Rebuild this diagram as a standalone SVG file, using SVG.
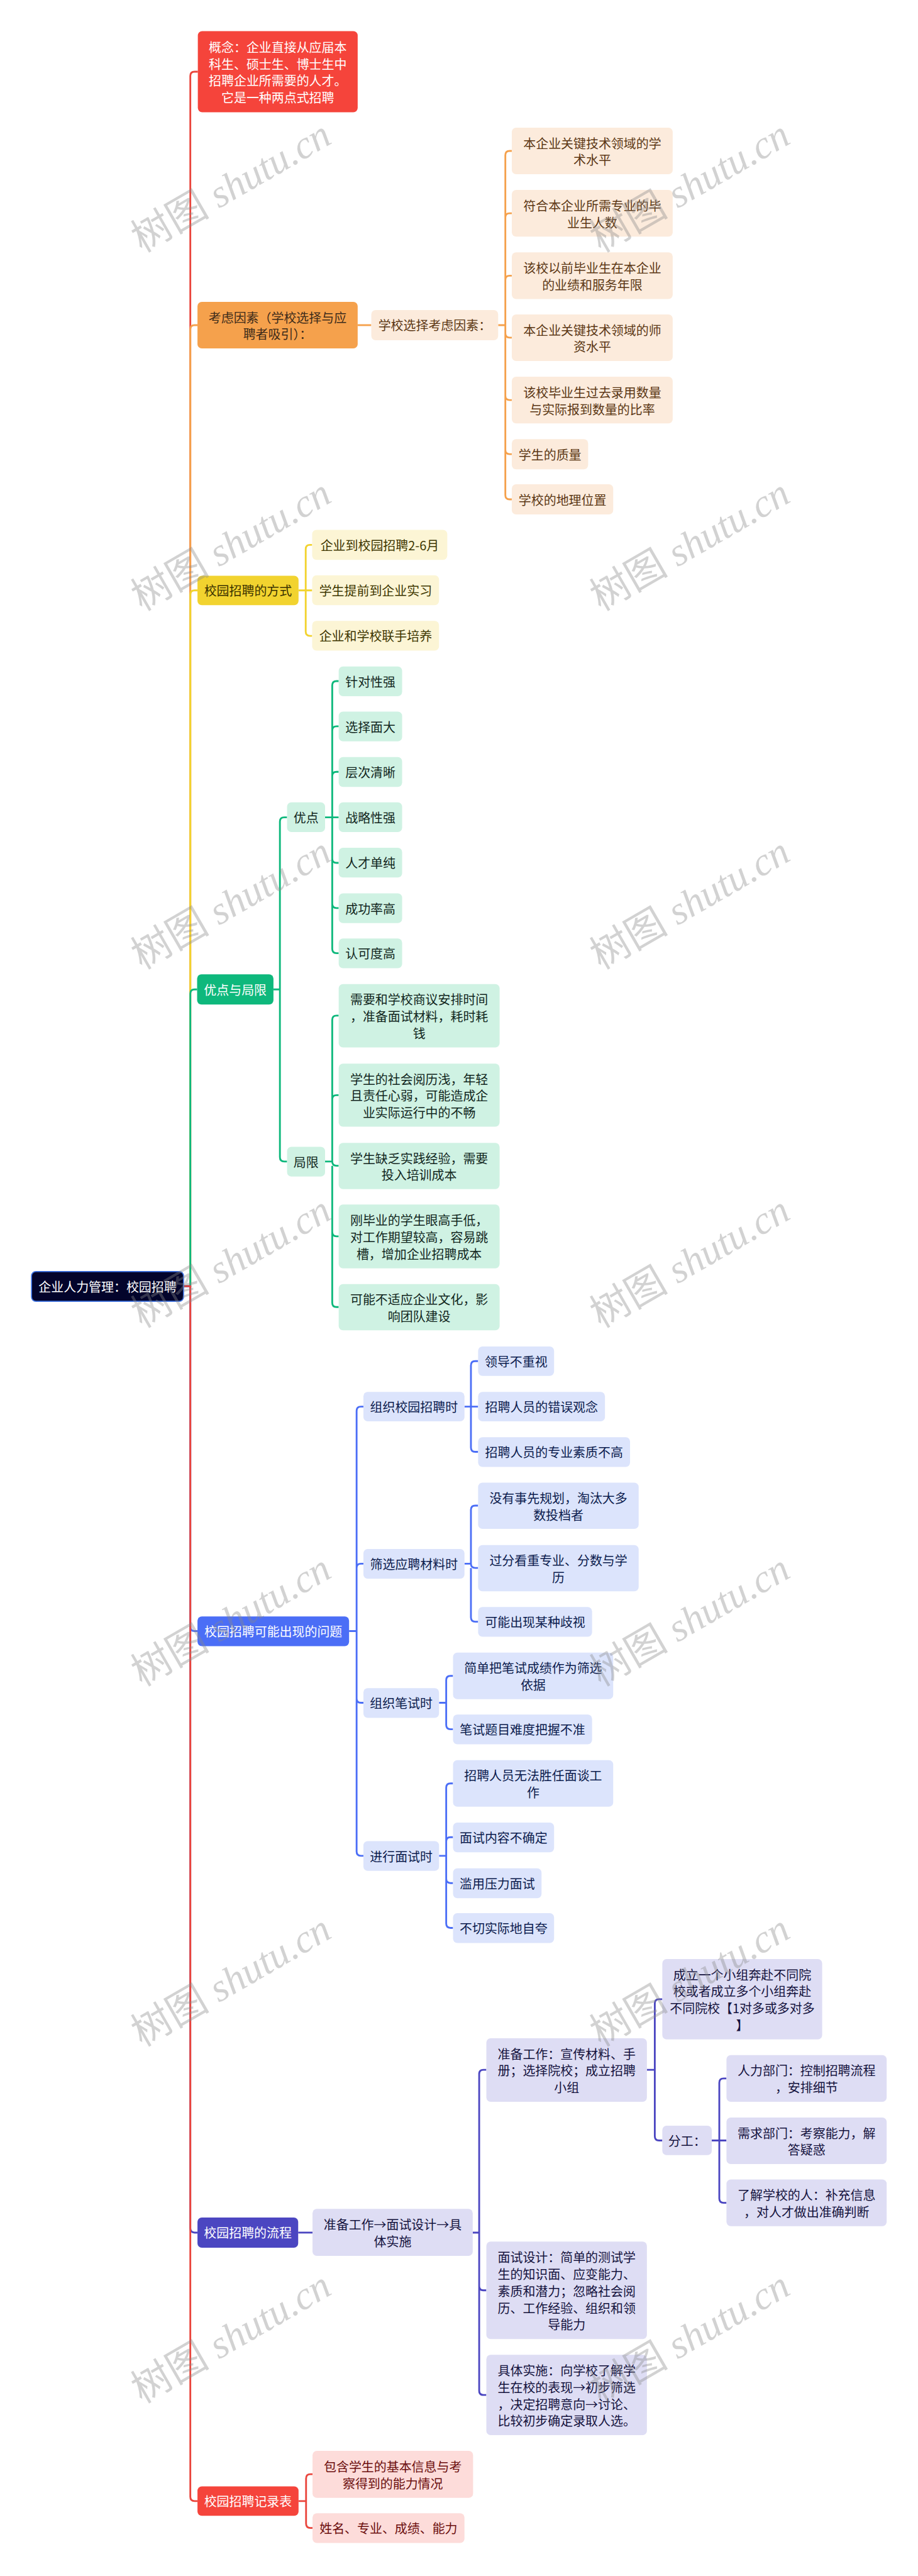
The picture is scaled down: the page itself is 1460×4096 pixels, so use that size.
<svg xmlns="http://www.w3.org/2000/svg" width="1460" height="4096" viewBox="0 0 1460 4096">
<style>
.t{font-family:"Noto Sans CJK SC","Noto Sans",sans-serif;font-size:35px;text-anchor:middle;dominant-baseline:central}
.w{fill:#fff}
.c{fill:none;stroke-width:5}
.red{stroke:#EA463D}.org{stroke:#F5A14C}.yel{stroke:#F2D32F}.grn{stroke:#0EB87C}.blu{stroke:#4B6EF6}.pur{stroke:#4B46C1}
.n1r{fill:#F5443B}.n1o{fill:#F5A14C}.n1y{fill:#F2D32F}.n1g{fill:#0EB87C}.n1b{fill:#4B6EF6}.n1p{fill:#4B46C1}
.no{fill:#FCEBDC}.ny{fill:#FCF5D5}.ng{fill:#CFF2E3}.nb{fill:#DCE4FC}.np{fill:#DEDDF4}.nr{fill:#FDDCDA}
.to{fill:#5B3714}.ty{fill:#3D3600}.tg{fill:#11261D}.tb{fill:#0B1B4D}.tp{fill:#14123D}.tr{fill:#6B0D0D}
.wm{font-family:"Liberation Serif","Noto Sans CJK SC",serif;font-size:110px;fill:#8a8a8a;fill-opacity:0.38;text-anchor:middle;dominant-baseline:central}
</style>
<g transform="scale(0.57)">
<rect x="0" y="0" width="2560" height="7182" fill="#fff"/>
<g id="connectors">
<path class="c red" d="M512 3588H531V212Q531 200 543 200H552"/>
<path class="c org" d="M512 3588H531V919Q531 907 543 907H551"/>
<path class="c yel" d="M512 3588H531V1659Q531 1647 543 1647H551"/>
<path class="c grn" d="M512 3588H531V2772Q531 2760 543 2760H550"/>
<path class="c blu" d="M512 3588H531V4538Q531 4550 543 4550H551"/>
<path class="c pur" d="M512 3588H531V6216Q531 6228 543 6228H551"/>
<path class="c red" d="M512 3588H531V6965Q531 6977 543 6977H551"/>
<path class="c org" d="M998 907H1036"/>
<path class="c org" d="M1390 907H1410V433Q1410 421 1422 421H1428M1410 607Q1410 595 1422 595H1428M1410 781Q1410 769 1422 769H1428M1390 907H1410V930Q1410 942 1422 942H1428M1410 930V1104Q1410 1116 1422 1116H1428M1410 1104V1255Q1410 1267 1422 1267H1428M1410 1255V1381Q1410 1393 1422 1393H1428"/>
<path class="c yel" d="M833 1647H853V1532Q853 1520 865 1520H871M833 1647H871M853 1647V1762Q853 1774 865 1774H871"/>
<path class="c grn" d="M763 2760H781V2292Q781 2280 793 2280H801M763 2760H781V3228Q781 3240 793 3240H801"/>
<path class="c grn" d="M907 2280H927V1912Q927 1900 939 1900H945M927 2038Q927 2026 939 2026H945M927 2165Q927 2153 939 2153H945M907 2280H945M927 2280V2395Q927 2407 939 2407H945M927 2395V2521Q927 2533 939 2533H945M927 2521V2647Q927 2659 939 2659H945"/>
<path class="c grn" d="M907 3240H927V2845Q927 2833 939 2833H945M927 3067Q927 3055 939 3055H945M907 3240H927V3240Q927 3252 939 3252H945M927 3252V3437Q927 3449 939 3449H945M927 3437V3634Q927 3646 939 3646H945"/>
<path class="c blu" d="M974 4550H995V3936Q995 3924 1007 3924H1014M995 4374Q995 4362 1007 4362H1014M974 4550H995V4738Q995 4750 1007 4750H1014M995 4738V5165Q995 5177 1007 5177H1014"/>
<path class="c blu" d="M1296 3924H1314V3809Q1314 3797 1326 3797H1334M1296 3924H1334M1314 3924V4038Q1314 4050 1326 4050H1334"/>
<path class="c blu" d="M1296 4362H1314V4212Q1314 4200 1326 4200H1334M1296 4362H1314V4362Q1314 4374 1326 4374H1334M1314 4374V4512Q1314 4524 1326 4524H1334"/>
<path class="c blu" d="M1225 4750H1245V4687Q1245 4675 1257 4675H1264M1225 4750H1245V4812Q1245 4824 1257 4824H1264"/>
<path class="c blu" d="M1225 5177H1245V4987Q1245 4975 1257 4975H1264M1245 5137Q1245 5125 1257 5125H1264M1225 5177H1245V5241Q1245 5253 1257 5253H1264M1245 5241V5366Q1245 5378 1257 5378H1264"/>
<path class="c pur" d="M832 6228H872"/>
<path class="c pur" d="M1319 6228H1337V5786Q1337 5774 1349 5774H1357M1319 6228H1337V6377Q1337 6389 1349 6389H1357M1337 6377V6669Q1337 6681 1349 6681H1357"/>
<path class="c pur" d="M1805 5774H1827V5589Q1827 5577 1839 5577H1848M1805 5774H1827V5959Q1827 5971 1839 5971H1848"/>
<path class="c pur" d="M1986 5971H2007V5810Q2007 5798 2019 5798H2027M1986 5971H2027M2007 5971V6133Q2007 6145 2019 6145H2027"/>
<path class="c red" d="M833 6977H854V6914Q854 6902 866 6902H872M833 6977H854V7040Q854 7052 866 7052H872"/>
</g>
<g id="root"><rect x="88" y="3547" width="424" height="83" rx="12" fill="#03042B" stroke="#3A6FE0" stroke-width="3"/><text class="t w" x="300" y="3588.5" font-size="36">企业人力管理：校园招聘</text></g>
<g id="concept"><rect class="n1r" x="552" y="87" width="446" height="226" rx="12"/><text class="t w" x="775"><tspan x="775" y="129.5">概念：企业直接从应届本</tspan><tspan x="775" y="176.5">科生、硕士生、博士生中</tspan><tspan x="775" y="223.5">招聘企业所需要的人才。</tspan><tspan x="775" y="270.5">它是一种两点式招聘</tspan></text></g>
<g id="factors"><rect class="n1o" x="551" y="842" width="447" height="130" rx="12"/><text class="t" fill="#3D2B1A"><tspan x="774.5" y="883.5">考虑因素（学校选择与应</tspan><tspan x="774.5" y="930.5">聘者吸引）：</tspan></text></g>
<g id="school-factors"><rect class="no" x="1036" y="865" width="354" height="84" rx="12"/><text class="t to" x="1213" y="907">学校选择考虑因素：</text></g>
<g id="f1"><rect class="no" x="1428" y="356" width="449" height="130" rx="12"/><text class="t to"><tspan x="1652.5" y="397.5">本企业关键技术领域的学</tspan><tspan x="1652.5" y="444.5">术水平</tspan></text></g>
<g id="f2"><rect class="no" x="1428" y="530" width="449" height="130" rx="12"/><text class="t to"><tspan x="1652.5" y="571.5">符合本企业所需专业的毕</tspan><tspan x="1652.5" y="618.5">业生人数</tspan></text></g>
<g id="f3"><rect class="no" x="1428" y="704" width="449" height="130" rx="12"/><text class="t to"><tspan x="1652.5" y="745.5">该校以前毕业生在本企业</tspan><tspan x="1652.5" y="792.5">的业绩和服务年限</tspan></text></g>
<g id="f4"><rect class="no" x="1428" y="877" width="449" height="130" rx="12"/><text class="t to"><tspan x="1652.5" y="918.5">本企业关键技术领域的师</tspan><tspan x="1652.5" y="965.5">资水平</tspan></text></g>
<g id="f5"><rect class="no" x="1428" y="1051" width="449" height="130" rx="12"/><text class="t to"><tspan x="1652.5" y="1092.5">该校毕业生过去录用数量</tspan><tspan x="1652.5" y="1139.5">与实际报到数量的比率</tspan></text></g>
<g id="f6"><rect class="no" x="1428" y="1225" width="213" height="84" rx="12"/><text class="t to" x="1534.5" y="1267">学生的质量</text></g>
<g id="f7"><rect class="no" x="1428" y="1351" width="283" height="84" rx="12"/><text class="t to" x="1569.5" y="1393">学校的地理位置</text></g>
<g id="methods"><rect class="n1y" x="551" y="1606" width="282" height="82" rx="12"/><text class="t" fill="#3B3200" x="692" y="1647">校园招聘的方式</text></g>
<g id="m1"><rect class="ny" x="871" y="1478" width="377" height="84" rx="12"/><text class="t ty" x="1059.5" y="1520">企业到校园招聘2-6月</text></g>
<g id="m2"><rect class="ny" x="871" y="1605" width="354" height="83" rx="12"/><text class="t ty" x="1048" y="1646.5">学生提前到企业实习</text></g>
<g id="m3"><rect class="ny" x="871" y="1732" width="354" height="83" rx="12"/><text class="t ty" x="1048" y="1773.5">企业和学校联手培养</text></g>
<g id="proscons"><rect class="n1g" x="550" y="2718" width="213" height="84" rx="12"/><text class="t w" x="656.5" y="2760">优点与局限</text></g>
<g id="pros"><rect class="ng" x="801" y="2238" width="106" height="83" rx="12"/><text class="t tg" x="854" y="2279.5">优点</text></g>
<g id="cons"><rect class="ng" x="801" y="3199" width="106" height="83" rx="12"/><text class="t tg" x="854" y="3240.5">局限</text></g>
<g id="p1"><rect class="ng" x="945" y="1859" width="177" height="83" rx="12"/><text class="t tg" x="1033.5" y="1900.5">针对性强</text></g>
<g id="p2"><rect class="ng" x="945" y="1985" width="177" height="83" rx="12"/><text class="t tg" x="1033.5" y="2026.5">选择面大</text></g>
<g id="p3"><rect class="ng" x="945" y="2112" width="177" height="83" rx="12"/><text class="t tg" x="1033.5" y="2153.5">层次清晰</text></g>
<g id="p4"><rect class="ng" x="945" y="2238" width="177" height="83" rx="12"/><text class="t tg" x="1033.5" y="2279.5">战略性强</text></g>
<g id="p5"><rect class="ng" x="945" y="2365" width="177" height="83" rx="12"/><text class="t tg" x="1033.5" y="2406.5">人才单纯</text></g>
<g id="p6"><rect class="ng" x="945" y="2492" width="177" height="83" rx="12"/><text class="t tg" x="1033.5" y="2533.5">成功率高</text></g>
<g id="p7"><rect class="ng" x="945" y="2618" width="177" height="83" rx="12"/><text class="t tg" x="1033.5" y="2659.5">认可度高</text></g>
<g id="c1"><rect class="ng" x="945" y="2745" width="449" height="177" rx="12"/><text class="t tg"><tspan x="1169.5" y="2786.5">需要和学校商议安排时间</tspan><tspan x="1169.5" y="2833.5">，准备面试材料，耗时耗</tspan><tspan x="1169.5" y="2880.5">钱</tspan></text></g>
<g id="c2"><rect class="ng" x="945" y="2967" width="449" height="176" rx="12"/><text class="t tg"><tspan x="1169.5" y="3008">学生的社会阅历浅，年轻</tspan><tspan x="1169.5" y="3055">且责任心弱，可能造成企</tspan><tspan x="1169.5" y="3102">业实际运行中的不畅</tspan></text></g>
<g id="c3"><rect class="ng" x="945" y="3188" width="449" height="129" rx="12"/><text class="t tg"><tspan x="1169.5" y="3229">学生缺乏实践经验，需要</tspan><tspan x="1169.5" y="3276">投入培训成本</tspan></text></g>
<g id="c4"><rect class="ng" x="945" y="3360" width="449" height="178" rx="12"/><text class="t tg"><tspan x="1169.5" y="3402">刚毕业的学生眼高手低，</tspan><tspan x="1169.5" y="3449">对工作期望较高，容易跳</tspan><tspan x="1169.5" y="3496">槽，增加企业招聘成本</tspan></text></g>
<g id="c5"><rect class="ng" x="945" y="3582" width="449" height="129" rx="12"/><text class="t tg"><tspan x="1169.5" y="3623">可能不适应企业文化，影</tspan><tspan x="1169.5" y="3670">响团队建设</tspan></text></g>
<g id="problems"><rect class="n1b" x="551" y="4509" width="423" height="83" rx="12"/><text class="t w" x="762.5" y="4550.5">校园招聘可能出现的问题</text></g>
<g id="q1"><rect class="nb" x="1014" y="3883" width="282" height="82" rx="12"/><text class="t tb" x="1155" y="3924">组织校园招聘时</text></g>
<g id="q2"><rect class="nb" x="1014" y="4321" width="282" height="83" rx="12"/><text class="t tb" x="1155" y="4362.5">筛选应聘材料时</text></g>
<g id="q3"><rect class="nb" x="1014" y="4709" width="211" height="83" rx="12"/><text class="t tb" x="1119.5" y="4750.5">组织笔试时</text></g>
<g id="q4"><rect class="nb" x="1014" y="5136" width="211" height="83" rx="12"/><text class="t tb" x="1119.5" y="5177.5">进行面试时</text></g>
<g id="q1a"><rect class="nb" x="1334" y="3756" width="212" height="82" rx="12"/><text class="t tb" x="1440" y="3797">领导不重视</text></g>
<g id="q1b"><rect class="nb" x="1334" y="3883" width="354" height="82" rx="12"/><text class="t tb" x="1511" y="3924">招聘人员的错误观念</text></g>
<g id="q1c"><rect class="nb" x="1334" y="4009" width="424" height="83" rx="12"/><text class="t tb" x="1546" y="4050.5">招聘人员的专业素质不高</text></g>
<g id="q2a"><rect class="nb" x="1334" y="4136" width="448" height="129" rx="12"/><text class="t tb"><tspan x="1558" y="4177">没有事先规划，淘汰大多</tspan><tspan x="1558" y="4224">数投档者</tspan></text></g>
<g id="q2b"><rect class="nb" x="1334" y="4310" width="448" height="129" rx="12"/><text class="t tb"><tspan x="1558" y="4351">过分看重专业、分数与学</tspan><tspan x="1558" y="4398">历</tspan></text></g>
<g id="q2c"><rect class="nb" x="1334" y="4483" width="318" height="83" rx="12"/><text class="t tb" x="1493" y="4524.5">可能出现某种歧视</text></g>
<g id="q3a"><rect class="nb" x="1264" y="4610" width="447" height="130" rx="12"/><text class="t tb"><tspan x="1487.5" y="4651.5">简单把笔试成绩作为筛选</tspan><tspan x="1487.5" y="4698.5">依据</tspan></text></g>
<g id="q3b"><rect class="nb" x="1264" y="4783" width="388" height="83" rx="12"/><text class="t tb" x="1458" y="4824.5">笔试题目难度把握不准</text></g>
<g id="q4a"><rect class="nb" x="1264" y="4910" width="447" height="130" rx="12"/><text class="t tb"><tspan x="1487.5" y="4951.5">招聘人员无法胜任面谈工</tspan><tspan x="1487.5" y="4998.5">作</tspan></text></g>
<g id="q4b"><rect class="nb" x="1264" y="5084" width="282" height="83" rx="12"/><text class="t tb" x="1405" y="5125.5">面试内容不确定</text></g>
<g id="q4c"><rect class="nb" x="1264" y="5212" width="247" height="83" rx="12"/><text class="t tb" x="1387.5" y="5253.5">滥用压力面试</text></g>
<g id="q4d"><rect class="nb" x="1264" y="5337" width="282" height="83" rx="12"/><text class="t tb" x="1405" y="5378.5">不切实际地自夸</text></g>
<g id="process"><rect class="n1p" x="551" y="6186" width="281" height="84" rx="12"/><text class="t w" x="691.5" y="6228">校园招聘的流程</text></g>
<g id="r0"><rect class="np" x="872" y="6162" width="447" height="131" rx="12"/><text class="t tp"><tspan x="1095.5" y="6204">准备工作→面试设计→具</tspan><tspan x="1095.5" y="6251">体实施</tspan></text></g>
<g id="r1"><rect class="np" x="1357" y="5686" width="448" height="177" rx="12"/><text class="t tp"><tspan x="1581" y="5727.5">准备工作：宣传材料、手</tspan><tspan x="1581" y="5774.5">册；选择院校；成立招聘</tspan><tspan x="1581" y="5821.5">小组</tspan></text></g>
<g id="r2"><rect class="np" x="1357" y="6253" width="448" height="272" rx="12"/><text class="t tp"><tspan x="1581" y="6295">面试设计：简单的测试学</tspan><tspan x="1581" y="6342">生的知识面、应变能力、</tspan><tspan x="1581" y="6389">素质和潜力；忽略社会阅</tspan><tspan x="1581" y="6436">历、工作经验、组织和领</tspan><tspan x="1581" y="6483">导能力</tspan></text></g>
<g id="r3"><rect class="np" x="1357" y="6569" width="448" height="224" rx="12"/><text class="t tp"><tspan x="1581" y="6610.5">具体实施：向学校了解学</tspan><tspan x="1581" y="6657.5">生在校的表现→初步筛选</tspan><tspan x="1581" y="6704.5">，决定招聘意向→讨论、</tspan><tspan x="1581" y="6751.5">比较初步确定录取人选。</tspan></text></g>
<g id="r1a"><rect class="np" x="1848" y="5465" width="446" height="224" rx="12"/><text class="t tp"><tspan x="2071" y="5506.5">成立一个小组奔赴不同院</tspan><tspan x="2071" y="5553.5">校或者成立多个小组奔赴</tspan><tspan x="2071" y="5600.5">不同院校【1对多或多对多</tspan><tspan x="2071" y="5647.5">】</tspan></text></g>
<g id="r1b"><rect class="np" x="1848" y="5930" width="138" height="82" rx="12"/><text class="t tp" x="1917" y="5971">分工：</text></g>
<g id="r1b1"><rect class="np" x="2027" y="5733" width="447" height="130" rx="12"/><text class="t tp"><tspan x="2250.5" y="5774.5">人力部门：控制招聘流程</tspan><tspan x="2250.5" y="5821.5">，安排细节</tspan></text></g>
<g id="r1b2"><rect class="np" x="2027" y="5907" width="447" height="130" rx="12"/><text class="t tp"><tspan x="2250.5" y="5948.5">需求部门：考察能力，解</tspan><tspan x="2250.5" y="5995.5">答疑惑</tspan></text></g>
<g id="r1b3"><rect class="np" x="2027" y="6080" width="447" height="130" rx="12"/><text class="t tp"><tspan x="2250.5" y="6121.5">了解学校的人：补充信息</tspan><tspan x="2250.5" y="6168.5">，对人才做出准确判断</tspan></text></g>
<g id="records"><rect class="n1r" x="551" y="6936" width="282" height="82" rx="12"/><text class="t w" x="692" y="6977">校园招聘记录表</text></g>
<g id="s1"><rect class="nr" x="872" y="6837" width="448" height="131" rx="12"/><text class="t tr"><tspan x="1096" y="6879">包含学生的基本信息与考</tspan><tspan x="1096" y="6926">察得到的能力情况</tspan></text></g>
<g id="s2"><rect class="nr" x="872" y="7011" width="424" height="83" rx="12"/><text class="t tr" x="1084" y="7052.5">姓名、专业、成绩、能力</text></g>
<g id="watermarks">
<text class="wm" transform="translate(645 520) rotate(-30)">树图 <tspan font-style="italic">shutu.cn</tspan></text>
<text class="wm" transform="translate(1925 520) rotate(-30)">树图 <tspan font-style="italic">shutu.cn</tspan></text>
<text class="wm" transform="translate(645 1520) rotate(-30)">树图 <tspan font-style="italic">shutu.cn</tspan></text>
<text class="wm" transform="translate(1925 1520) rotate(-30)">树图 <tspan font-style="italic">shutu.cn</tspan></text>
<text class="wm" transform="translate(645 2520) rotate(-30)">树图 <tspan font-style="italic">shutu.cn</tspan></text>
<text class="wm" transform="translate(1925 2520) rotate(-30)">树图 <tspan font-style="italic">shutu.cn</tspan></text>
<text class="wm" transform="translate(645 3520) rotate(-30)">树图 <tspan font-style="italic">shutu.cn</tspan></text>
<text class="wm" transform="translate(1925 3520) rotate(-30)">树图 <tspan font-style="italic">shutu.cn</tspan></text>
<text class="wm" transform="translate(645 4520) rotate(-30)">树图 <tspan font-style="italic">shutu.cn</tspan></text>
<text class="wm" transform="translate(1925 4520) rotate(-30)">树图 <tspan font-style="italic">shutu.cn</tspan></text>
<text class="wm" transform="translate(645 5525) rotate(-30)">树图 <tspan font-style="italic">shutu.cn</tspan></text>
<text class="wm" transform="translate(1925 5525) rotate(-30)">树图 <tspan font-style="italic">shutu.cn</tspan></text>
<text class="wm" transform="translate(645 6520) rotate(-30)">树图 <tspan font-style="italic">shutu.cn</tspan></text>
<text class="wm" transform="translate(1925 6520) rotate(-30)">树图 <tspan font-style="italic">shutu.cn</tspan></text>
</g>
</g>
</svg>
